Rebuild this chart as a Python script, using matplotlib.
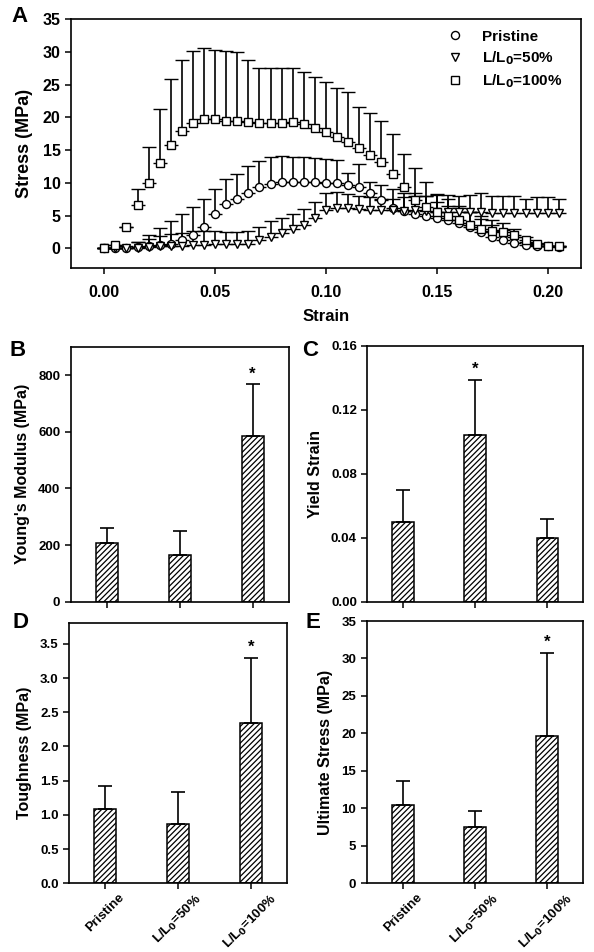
import matplotlib
matplotlib.use("Agg")
import matplotlib.pyplot as plt
import numpy as np

plt.rcParams['font.family'] = ['Liberation Sans', 'DejaVu Sans']
plt.rcParams['font.weight'] = 'bold'
plt.rcParams['axes.labelweight'] = 'bold'
plt.rcParams['mathtext.default'] = 'bf'
plt.rcParams['hatch.linewidth'] = 0.9

# ---------------- Panel A data ----------------
strain = [0.000, 0.005, 0.010, 0.015, 0.020, 0.025, 0.030, 0.035, 0.040, 0.045,
          0.050, 0.055, 0.060, 0.065, 0.070, 0.075, 0.080, 0.085, 0.090, 0.095,
          0.100, 0.105, 0.110, 0.115, 0.120, 0.125, 0.130, 0.135, 0.140, 0.145,
          0.150, 0.155, 0.160, 0.165, 0.170, 0.175, 0.180, 0.185, 0.190, 0.195,
          0.200, 0.205]

pristine_mean = [0.0, 0.0, 0.0, 0.2, 0.3, 0.5, 0.7, 1.2, 2.0, 3.3,
                 5.2, 6.8, 7.5, 8.5, 9.3, 9.8, 10.1, 10.1, 10.1, 10.1,
                 9.9, 9.9, 9.7, 9.4, 8.5, 7.4, 6.2, 5.7, 5.3, 5.0,
                 4.7, 4.3, 3.9, 3.3, 2.5, 1.8, 1.3, 0.8, 0.5, 0.4,
                 0.3, 0.2]
pristine_top = [0.0, 0.0, 0.3, 1.0, 2.1, 3.1, 4.2, 5.2, 6.3, 7.5,
                9.1, 10.6, 11.3, 12.5, 13.3, 14.0, 14.1, 13.9, 13.9, 13.8,
                13.6, 13.5, 11.5, 12.8, 10.2, 9.7, 9.0, 8.4, 8.4, 8.0,
                7.0, 6.5, 6.2, 5.5, 4.5, 3.6, 2.8, 1.8, 1.0, 0.6,
                0.4, 0.3]

half_mean = [0.0, 0.0, 0.0, 0.1, 0.2, 0.3, 0.3, 0.4, 0.5, 0.5,
             0.6, 0.6, 0.6, 0.7, 1.2, 1.8, 2.4, 2.9, 3.6, 4.7,
             5.8, 6.2, 6.1, 6.0, 5.9, 5.9, 5.9, 5.7, 5.8, 5.7,
             5.6, 5.6, 5.5, 5.5, 5.5, 5.4, 5.4, 5.4, 5.4, 5.4,
             5.4, 5.4]
half_top = [0.0, 0.0, 0.0, 0.9, 1.4, 1.9, 2.2, 2.4, 2.6, 2.7,
            2.7, 2.5, 2.5, 2.7, 3.3, 4.1, 4.7, 5.3, 6.0, 7.1,
            8.5, 8.6, 8.3, 8.0, 7.8, 7.6, 7.5, 7.8, 8.0, 8.0,
            8.2, 8.2, 8.0, 8.2, 8.4, 8.0, 8.0, 8.0, 7.5, 7.9,
            7.9, 7.5]

full_mean = [0.0, 0.5, 3.2, 6.6, 10.0, 13.1, 15.8, 17.9, 19.1, 19.7,
             19.7, 19.5, 19.4, 19.3, 19.2, 19.2, 19.2, 19.3, 18.9, 18.4,
             17.7, 17.0, 16.2, 15.3, 14.3, 13.2, 11.3, 9.3, 7.4, 6.3,
             5.6, 5.0, 4.3, 3.6, 3.0, 2.7, 2.5, 2.1, 1.3, 0.6,
             0.3, 0.3]
full_top = [0.0, 0.5, 3.2, 9.0, 15.4, 21.3, 25.8, 28.8, 30.1, 30.5,
            30.3, 30.1, 29.9, 28.7, 27.5, 27.5, 27.5, 27.5, 26.9, 26.2,
            25.4, 24.5, 23.8, 21.6, 20.6, 19.4, 17.4, 14.4, 12.3, 10.2,
            8.3, 7.5, 6.5, 5.5, 5.0, 4.3, 3.8, 3.0, 1.8, 0.8,
            0.4, 0.4]

series_labels = ['Pristine', r'L/L$_\mathbf{0}$=50%', r'L/L$_\mathbf{0}$=100%']
series_markers = ['o', 'v', 's']

# ---------------- Bar panel data ----------------
groups = ['Pristine', r'L/L$_\mathbf{0}$=50%', r'L/L$_\mathbf{0}$=100%']
youngs = [208, 166, 585]
youngs_err = [53, 84, 182]
yield_strain = [0.050, 0.104, 0.040]
yield_err = [0.020, 0.035, 0.0115]
toughness = [1.08, 0.865, 2.35]
toughness_err = [0.34, 0.475, 0.945]
ult_stress = [10.4, 7.55, 19.65]
ult_err = [3.25, 2.1, 11.1]
signif = [2, 1, 2, 2]  # index of bar with asterisk in B, C, D, E

W, H = 594, 952
fig = plt.figure(figsize=(W / 100, H / 100), dpi=100)


def ax_at(l, t, r, b):
    return fig.add_axes([l / W, 1 - b / H, (r - l) / W, (b - t) / H])


def style_axes(ax, lw=1.2):
    for s in ax.spines.values():
        s.set_linewidth(lw)
    ax.tick_params(direction='out', length=4, width=1.1, top=False, right=False)


# ---------------- Panel A ----------------
axA = ax_at(71, 19, 581, 268)
style_axes(axA)
handles = []
for mean, top, mk, lab in zip([pristine_mean, half_mean, full_mean],
                              [pristine_top, half_top, full_top],
                              series_markers, series_labels):
    m = np.array(mean)
    up = np.clip(np.array(top) - m, 0, None)
    err = np.vstack([np.zeros_like(up), up])
    eb = axA.errorbar(strain, m, yerr=err, fmt=mk, ms=5.8 if mk != 'v' else 6.3,
                      mfc='white', mec='black', mew=1.0, ecolor='black',
                      elinewidth=1.2, capsize=5, capthick=1.2, zorder=3)
    handles.append(eb.lines[0])
axA.set_xlim(-0.015, 0.215)
axA.set_ylim(-3, 35)
axA.set_xticks([0.00, 0.05, 0.10, 0.15, 0.20])
axA.set_xticklabels(['0.00', '0.05', '0.10', '0.15', '0.20'])
axA.set_yticks([0, 5, 10, 15, 20, 25, 30, 35])
axA.tick_params(labelsize=11.5)
axA.xaxis.set_tick_params(pad=8)
axA.set_ylabel('Stress (MPa)', fontsize=13, labelpad=7)
axA.set_xlabel('Strain', fontsize=12, labelpad=7)
axA.legend(handles, series_labels, loc='upper right', frameon=False,
           fontsize=11, handletextpad=1.2, labelspacing=0.35,
           borderaxespad=0.3, handlelength=1.2, bbox_to_anchor=(0.985, 1.0))

# ---------------- Bar panels ----------------
bar_specs = [
    ((70.7, 346.7, 289, 601.7), youngs, youngs_err, (0, 900), [0, 200, 400, 600, 800],
     ['0', '200', '400', '600', '800'], "Young's Modulus (MPa)", False),
    ((367.3, 346, 583.3, 601.7), yield_strain, yield_err, (0, 0.16),
     [0.0, 0.04, 0.08, 0.12, 0.16], ['0.00', '0.04', '0.08', '0.12', '0.16'],
     'Yield Strain', False),
    ((69, 623.3, 287.3, 883.3), toughness, toughness_err, (0, 3.8),
     [0, 0.5, 1.0, 1.5, 2.0, 2.5, 3.0, 3.5],
     ['0.0', '0.5', '1.0', '1.5', '2.0', '2.5', '3.0', '3.5'], 'Toughness (MPa)', True),
    ((366.7, 621, 582.7, 883.3), ult_stress, ult_err, (0, 35),
     [0, 5, 10, 15, 20, 25, 30, 35], ['0', '5', '10', '15', '20', '25', '30', '35'],
     'Ultimate Stress (MPa)', True),
]

axes_bar = []
for (box, vals, errs, ylim, yt, ytl, ylab, show_x), sig in zip(bar_specs, signif):
    ax = ax_at(*box)
    style_axes(ax)
    x = np.arange(len(groups))
    ax.bar(x, vals, width=0.3, color='white', edgecolor='black', linewidth=1.1,
           hatch='//////', zorder=2)
    ax.errorbar(x, vals, yerr=[np.zeros(len(errs)), errs], fmt='none',
                ecolor='black', elinewidth=1.2, capsize=5, capthick=1.2, zorder=3)
    ax.annotate('*', (x[sig], vals[sig] + errs[sig]), xytext=(0, 2),
                textcoords='offset points', ha='center', va='bottom',
                fontsize=12, fontweight='bold')
    ax.set_xlim(-0.5, 2.5)
    ax.set_ylim(*ylim)
    ax.set_yticks(yt)
    ax.set_yticklabels(ytl)
    ax.set_xticks(x)
    ax.tick_params(axis='y', labelsize=9.5)
    if show_x:
        ax.set_xticklabels(groups, rotation=45, ha='center', fontsize=9.5)
        ax.tick_params(axis='x', pad=2)
    else:
        ax.set_xticklabels([])
    ax.set_ylabel(ylab, fontsize=11.5, labelpad=6)
    axes_bar.append(ax)

# Panel letters
for letter, (px, py) in zip('ABCDE', [(20, 17), (18, 350), (310, 350), (20, 623), (313, 623)]):
    fig.text(px / W, 1 - py / H, letter, fontsize=16, fontweight='bold',
             ha='center', va='center')

fig.savefig('out.png', dpi=100)
